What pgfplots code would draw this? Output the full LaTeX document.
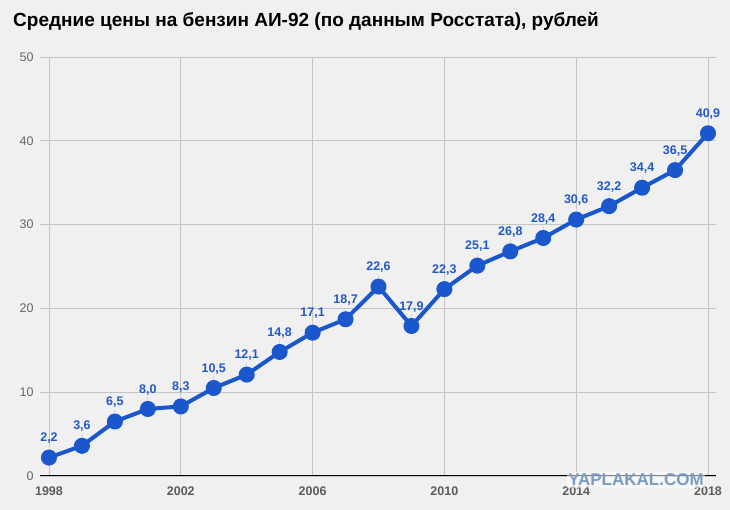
\documentclass[border=0pt]{standalone}
\usepackage{pgfplots}
\pgfplotsset{compat=1.18}
\usepackage{fontspec}
\setmainfont{Liberation Sans}
\definecolor{bg}{HTML}{F0F0F0}
\definecolor{gridc}{HTML}{C4C4C4}
\definecolor{lineblue}{HTML}{1A56CC}
\definecolor{labblue}{HTML}{2359C4}
\definecolor{tickgray}{HTML}{666666}
\definecolor{stemc}{HTML}{D6D6D6}
\definecolor{wmark}{HTML}{7A9CC0}
\begin{document}
\begin{tikzpicture}
\fill[bg] (0pt,0pt) rectangle (730pt,510pt);
\useasboundingbox (0pt,0pt) rectangle (730pt,510pt);
\node[anchor=base west, font=\bfseries\fontsize{19}{23}\selectfont, inner sep=0pt] at (13pt,483pt) {Средние цены на бензин АИ-92 (по данным Росстата), рублей};
\begin{axis}[
  at={(40pt,34pt)}, anchor=south west,
  scale only axis, width=676pt, height=419pt,
  xmin=1997.727, xmax=2018.243,
  ymin=0, ymax=50,
  xtick={1998,2002,...,2018},
  ytick={0,10,...,50},
  xticklabel style={font=\bfseries\fontsize{12.5}{14}\selectfont, text=tickgray!90!black},
  yticklabel style={font=\fontsize{12.5}{14}\selectfont, text=tickgray},
  /pgf/number format/assume math mode=true,
  xticklabel={\pgfmathprintnumber[1000 sep={}]{\tick}},
  yticklabel={\pgfmathprintnumber{\tick}},
  grid=major,
  major grid style={gridc, line width=0.9pt},
  axis line style={draw=none},
  major tick length=0pt,
  every tick/.style={draw=none},
  clip=false,
  xticklabel shift=7pt,
  yticklabel shift=3pt,
]
\draw[black, line width=1pt] (axis cs:1997.727,0) -- (axis cs:2018.243,0);
\addplot[draw=none, forget plot,
  error bars/.cd, y dir=plus, y fixed=1.4,
  error bar style={stemc, line width=0.8pt}, error mark=none]
  table {
x y
1998 2.2
1999 3.6
2000 6.5
2001 8.0
2002 8.3
2003 10.5
2004 12.1
2005 14.8
2006 17.1
2007 18.7
2008 22.6
2009 17.9
2010 22.3
2011 25.1
2012 26.8
2013 28.4
2014 30.6
2015 32.2
2016 34.4
2017 36.5
2018 40.9
};
\addplot[lineblue, line width=4pt, line join=round, mark=*, mark size=6pt,
  mark options={fill=lineblue, draw=none},
  nodes near coords,
  every node near coord/.append style={font=\bfseries\fontsize{12.5}{14}\selectfont, text=labblue, anchor=south, inner sep=0pt, yshift=12pt,
    /pgf/number format/.cd, fixed, fixed zerofill, precision=1, use comma, assume math mode=true},
]
  table {
x y
1998 2.2
1999 3.6
2000 6.5
2001 8.0
2002 8.3
2003 10.5
2004 12.1
2005 14.8
2006 17.1
2007 18.7
2008 22.6
2009 17.9
2010 22.3
2011 25.1
2012 26.8
2013 28.4
2014 30.6
2015 32.2
2016 34.4
2017 36.5
2018 40.9
};
\end{axis}
\node[fill=white, fill opacity=0.5, text opacity=1, text=wmark, font=\bfseries\fontsize{17}{18}\selectfont, inner sep=1.5pt] at (636pt,30pt) {YAPLAKAL.COM};
\end{tikzpicture}
\end{document}
